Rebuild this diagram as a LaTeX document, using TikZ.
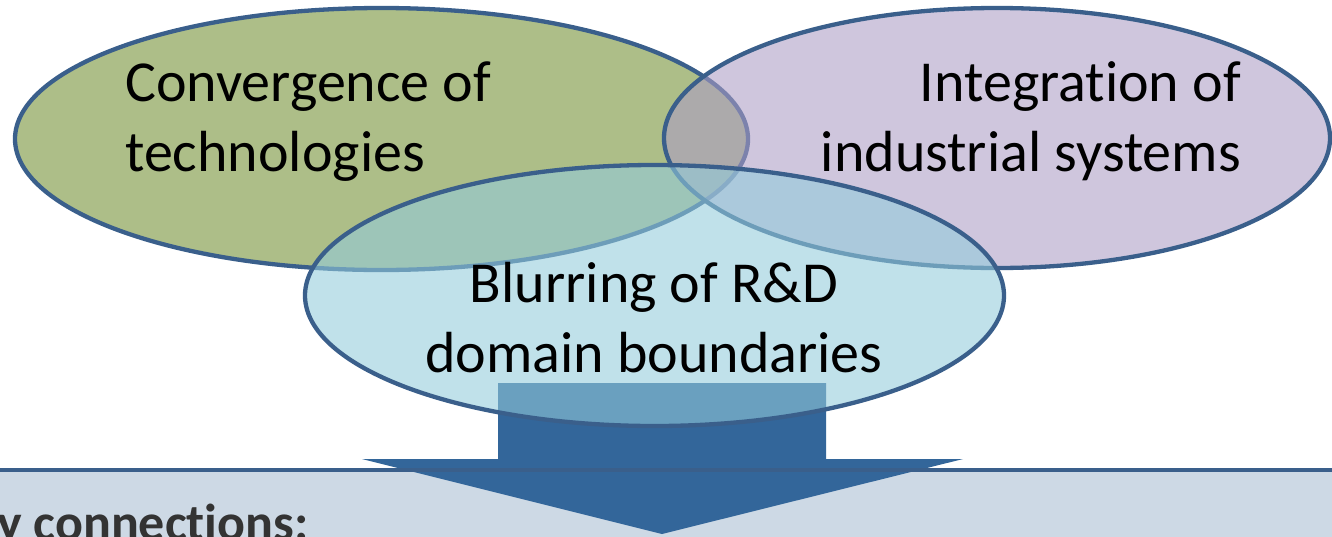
\documentclass[tikz,border=0pt]{standalone}
\usepackage{fontspec}
\setmainfont{Carlito}[Ligatures=NoCommon]
\definecolor{edgeblue}{HTML}{3A5F8B}
\definecolor{greenfill}{HTML}{ADBE88}
\definecolor{purplefill}{HTML}{AC9DC5}
\definecolor{bluefill}{HTML}{92CBDB}
\definecolor{arrowblue}{HTML}{33669A}
\definecolor{boxfill}{HTML}{CDD9E5}
\definecolor{boxtext}{HTML}{333333}
\tikzset{
  venn/.style={draw=edgeblue, line width=4.3pt},
  bigtxt/.style={font=\fontsize{58}{70}\selectfont, inner sep=0pt, text=black},
  boxtxt/.style={font=\fontsize{52}{62}\selectfont\bfseries, inner sep=0pt, text=boxtext},
}
\begin{document}
\begin{tikzpicture}[x=1pt,y=-1pt]
\useasboundingbox (0,0) rectangle (1332,536);
% bottom box fill
\fill[boxfill] (-10,470) rectangle (1342,560);
% block arrow
\fill[arrowblue] (498,383) -- (826,383) -- (826,459) -- (963,459) -- (662,534)
   -- (362,459) -- (498,459) -- cycle;
% box top border
\draw[edgeblue, line width=4.5pt] (-10,470) -- (1342,470);
% ellipses
\draw[venn, fill=greenfill] (381.5,139) ellipse [x radius=366.5, y radius=131];
\draw[venn, fill=purplefill, fill opacity=0.58] (997,138) ellipse [x radius=333, y radius=130];
\draw[venn, fill=bluefill, fill opacity=0.58] (654.5,295.5) ellipse [x radius=349.5, y radius=130.5];
% texts
\node[bigtxt, anchor=base west] (conv1) at (125,101) {Convergence of};
\node[bigtxt, anchor=base west] (conv2) at (125,171) {technologies};
\node[bigtxt, anchor=base east] (integ1) at (1241,101) {Integration of};
\node[bigtxt, anchor=base east] (integ2) at (1241,171) {industrial systems};
\node[bigtxt, anchor=base] (blur1) at (654,302) {Blurring of R\&D};
\node[bigtxt, anchor=base] (blur2) at (654,372) {domain boundaries};
\node[boxtxt, anchor=base west] (key) at (-3,540) {y connections:};
\end{tikzpicture}
\end{document}
